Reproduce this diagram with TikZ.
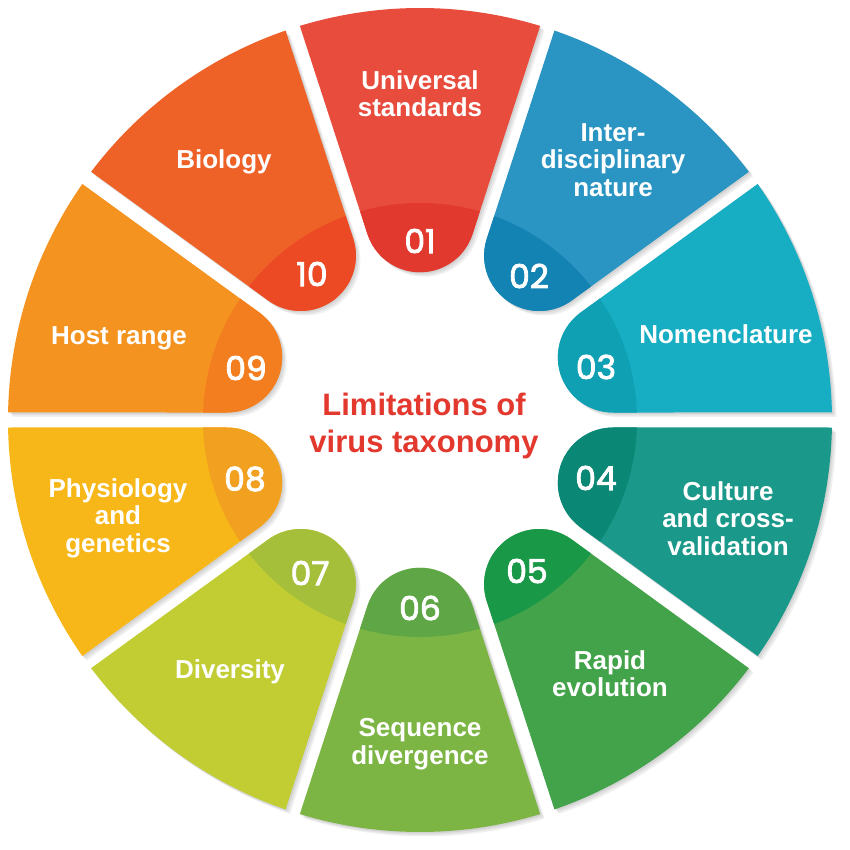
\documentclass[tikz,border=0pt]{standalone}
\usepackage{fontspec}
\setmainfont{Liberation Sans}
\newfontfamily\numfont{Poppins}[FakeBold=2.5]
\definecolor{l1}{HTML}{E84C3D} \definecolor{d1}{HTML}{E2392F}
\definecolor{l2}{HTML}{2A94C2} \definecolor{d2}{HTML}{1383B3}
\definecolor{l3}{HTML}{17AEC4} \definecolor{d3}{HTML}{0FA0B4}
\definecolor{l4}{HTML}{1A998A} \definecolor{d4}{HTML}{0B8875}
\definecolor{l5}{HTML}{43A34A} \definecolor{d5}{HTML}{199848}
\definecolor{l6}{HTML}{7CB543} \definecolor{d6}{HTML}{5FA746}
\definecolor{l7}{HTML}{C1CD33} \definecolor{d7}{HTML}{A6BF3A}
\definecolor{l8}{HTML}{F7B718} \definecolor{d8}{HTML}{F2A01F}
\definecolor{l9}{HTML}{F4931F} \definecolor{d9}{HTML}{F27E20}
\definecolor{l10}{HTML}{EF6227} \definecolor{d10}{HTML}{EC4A25}
\definecolor{titlered}{HTML}{E2382E}
\newcommand\segpath{(185.93,-52.53) -- (-16.957:412) arc[start angle=-16.957,end angle=16.957,radius=412] -- (185.93,52.53) arc[start angle=108,end angle=252,radius=55.23] -- cycle}
\tikzset{
  lab/.style={text=white, font=\bfseries\fontsize{26}{27.5}\selectfont, align=center, inner sep=0pt},
  num/.style={text=white, font=\numfont\fontsize{33}{33}\selectfont, inner sep=0pt},
  ttl/.style={text=titlered, font=\bfseries\fontsize{31}{37}\selectfont, align=center, inner sep=0pt},
  shad/.style={fill=black, opacity=0.06}
}
\begin{document}
\begin{tikzpicture}[x=1pt,y=1pt]
\useasboundingbox (-420,-430) rectangle (430,420);
\fill[white] (-420,-430) rectangle (430,420);
% shadows
\foreach \a in {90,54,18,-18,-54,-90,-126,-162,162,126} {
  \foreach \s in {1.5,3,4.5} {
    \fill[shad, shift={(\s,-\s)}, rotate=\a] \segpath;
  }
}
% segments
\foreach \a/\c in {90/1,54/2,18/3,-18/4,-54/5,-90/6,-126/7,-162/8,162/9,126/10} {
  \fill[l\c, rotate=\a] \segpath;
  \begin{scope}
    \clip (0,0) circle[radius=217];
    \fill[d\c, rotate=\a] \segpath;
  \end{scope}
}
% numbers
\node[num] (n1) at (0,179) {01};
\node[num] (n2) at (109,144) {02};
\node[num] (n3) at (176,53) {03};
\node[num] (n4) at (176,-58) {04};
\node[num] (n5) at (107,-151) {05};
\node[num] (n6) at (0,-188) {06};
\node[num] (n7) at (-110,-153) {07};
\node[num] (n8) at (-175,-59) {08};
\node[num] (n9) at (-174,52) {09};
\node[num] (n10) at (-108,146) {10};
% labels
\node[lab] (t1) at (0,326.5) {Universal\\standards};
\node[lab] (t2) at (193,260) {Inter-\\disciplinary\\nature};
\node[lab] (t3) at (306,86) {Nomenclature};
\node[lab] (t4) at (308,-98.5) {Culture\\and cross-\\validation};
\node[lab] (t5) at (190,-253.5) {Rapid\\evolution};
\node[lab] (t6) at (0,-324) {Sequence\\divergence};
\node[lab] (t7) at (-190,-252) {Diversity};
\node[lab] (t8) at (-302,-98) {Physiology\\and\\genetics};
\node[lab] (t9) at (-301,82) {Host range};
\node[lab] (t10) at (-196,258.5) {Biology};
% title
\node[ttl] (title) at (4,-6) {Limitations of\\virus taxonomy};
\end{tikzpicture}
\end{document}
